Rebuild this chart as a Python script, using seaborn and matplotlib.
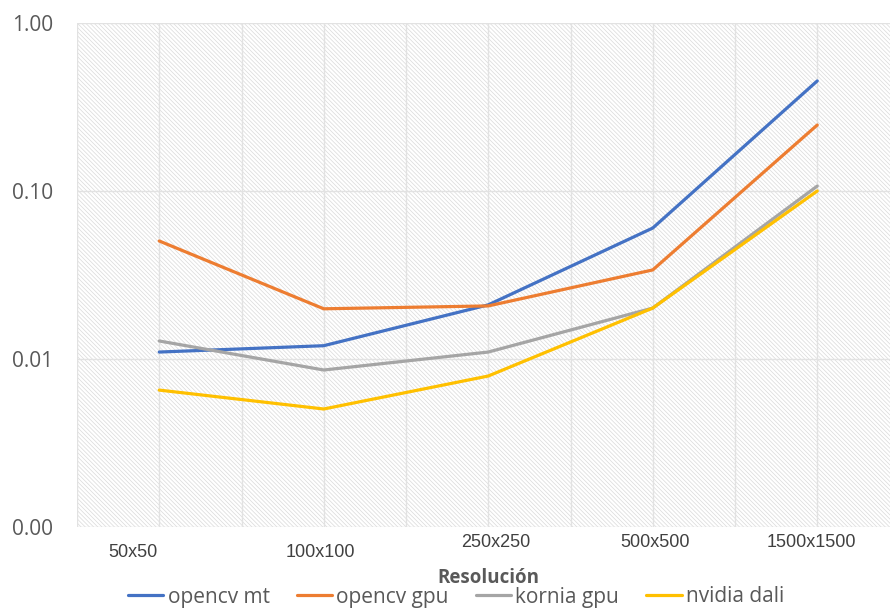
import numpy as np
import pandas as pd
import matplotlib
matplotlib.use("Agg")
import matplotlib.pyplot as plt
import matplotlib.transforms as mtransforms
from matplotlib.ticker import FixedLocator, FuncFormatter, NullLocator, MultipleLocator
import seaborn as sns

# Processing time per image (s) by resolution
resolutions = ["50x50", "100x100", "250x250", "500x500", "1500x1500"]
opencv_mt = [0.0110, 0.0120, 0.0210, 0.0602, 0.452]
opencv_gpu = [0.0504, 0.0199, 0.0207, 0.0339, 0.247]
kornia_gpu = [0.0128, 0.0086, 0.0110, 0.0201, 0.107]
nvidia_dali = [0.00653, 0.00504, 0.00792, 0.0201, 0.100]

series_names = ["opencv mt", "opencv gpu", "kornia gpu", "nvidia dali"]
series_values = [opencv_mt, opencv_gpu, kornia_gpu, nvidia_dali]
series_colors = ["#4472C4", "#ED7D31", "#A5A5A5", "#FFC000"]

y_ticks = [0.001, 0.01, 0.1, 1.0]

rows = []
for name, vals in zip(series_names, series_values):
    for i, (res, v) in enumerate(zip(resolutions, vals)):
        rows.append({"pos": i, "Resolución": res, "serie": name, "tiempo": v})
df = pd.DataFrame(rows)

sns.set_theme(style="white")
plt.rcParams["font.family"] = ["Open Sans", "DejaVu Sans"]
plt.rcParams["hatch.linewidth"] = 0.5

fig = plt.figure(figsize=(8.9, 6.15), dpi=100)
ax = fig.add_axes([77 / 890, 1 - 527 / 615, 822.5 / 890, 504 / 615])

# hatched plot area
ax.patch.set_facecolor("white")
ax.patch.set_hatch("\\" * 8)
ax.patch.set_edgecolor("#dadada")
ax.patch.set_linewidth(0)

sns.lineplot(data=df, x="pos", y="tiempo", hue="serie", hue_order=series_names,
             palette=series_colors, linewidth=2.3, legend=False, ax=ax,
             sort=False, zorder=3)

ax.set_yscale("log")
ax.set_ylim(y_ticks[0], y_ticks[-1])
ax.set_xlim(-0.5, len(resolutions) - 0.5)
ax.yaxis.set_major_locator(FixedLocator(y_ticks))
ax.yaxis.set_minor_locator(NullLocator())
ax.yaxis.set_major_formatter(FuncFormatter(lambda v, p: f"{v:.2f}"))

ax.set_xticks(range(len(resolutions)))
ax.set_xticklabels(resolutions, fontsize=13, color="#404040",
                   family=["Liberation Sans", "DejaVu Sans"])
ax.xaxis.set_minor_locator(MultipleLocator(0.5))

ax.grid(True, which="both", axis="x", color="#e2e2e2", linewidth=1.0, zorder=1)
ax.grid(True, which="major", axis="y", color="#e2e2e2", linewidth=1.0, zorder=1)
ax.set_axisbelow(True)
for s in ax.spines.values():
    s.set_visible(False)

ax.tick_params(axis="both", which="both", length=0)
ax.tick_params(axis="y", labelsize=15, labelcolor="#595959", pad=17)
ax.tick_params(axis="x", pad=6)

ax.set_ylabel("")
ax.set_xlabel("Resolución", fontsize=13.5, fontweight="bold", color="#595959")
ax.xaxis.set_label_coords(0.5, -0.082)

# staggered category labels
offsets_px = [(-26, -9), (-3, -9), (7, 1), (2, 1), (-6, 1)]
for lab, (dx, dy) in zip(ax.get_xticklabels(), offsets_px):
    lab.set_transform(lab.get_transform() +
                      mtransforms.ScaledTranslation(dx / 100, dy / 100, fig.dpi_scale_trans))

handles = ax.get_lines()[:len(series_names)]
leg = fig.legend(handles, series_names, loc="center", ncol=4,
                 bbox_to_anchor=(456 / 890, 1 - 597 / 615), frameon=False,
                 fontsize=15, handlelength=1.7, handletextpad=0.2,
                 columnspacing=1.3, borderaxespad=0)
for t in leg.get_texts():
    t.set_color("#595959")

fig.savefig("out.png", dpi=100)
